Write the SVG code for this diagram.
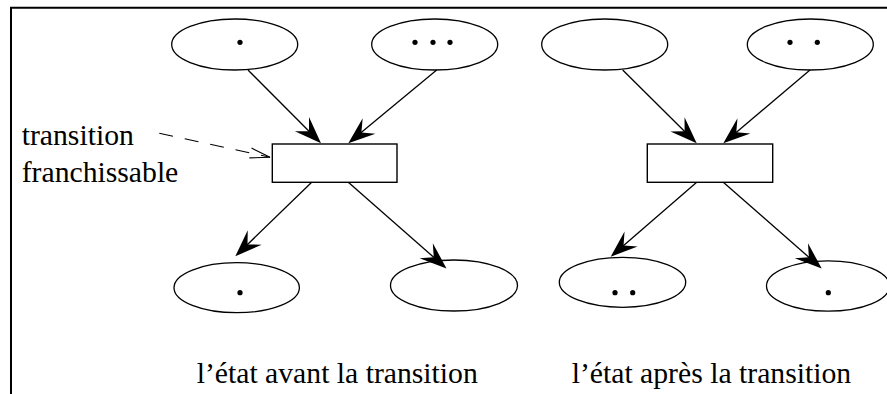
<svg xmlns="http://www.w3.org/2000/svg" xmlns:xlink="http://www.w3.org/1999/xlink" width="887" height="394" viewBox="0 0 887 394">
<style>
.place{fill:#fff;stroke:#000;stroke-width:1.3}
.trans{fill:#fff;stroke:#000;stroke-width:1.4}
.tok{fill:#000}
.arc{fill:none;stroke:#000;stroke-width:1.3}
.dash{fill:none;stroke:#000;stroke-width:1.1;stroke-dasharray:14 12}
.lbl{font-family:"Liberation Serif","Times New Roman",serif;font-size:29.7px;fill:#000}
</style>
<defs>
<path id="head" d="M0,0 L-27,-10 L-17,0 L-27,10 Z" fill="#000"/>
<path id="openhead" d="M-20,-5 L0,0 L-20,5" fill="none" stroke="#000" stroke-width="1.1"/>
</defs>
<rect width="887" height="394" fill="#fff"/>
<path d="M11,394 V7.7 H887" fill="none" stroke="#000" stroke-width="2"/>

<g id="p1"><ellipse class="place" cx="234.7" cy="44.5" rx="63" ry="25.5"/><circle class="tok" cx="240" cy="42.3" r="2.6"/></g>
<g id="p2"><ellipse class="place" cx="434.7" cy="44.5" rx="63" ry="25.5"/><circle class="tok" cx="415" cy="42.3" r="2.6"/><circle class="tok" cx="433" cy="42.3" r="2.6"/><circle class="tok" cx="450" cy="42.3" r="2.6"/></g>
<g id="t1"><rect class="trans" x="272.3" y="144" width="124.7" height="38.3"/></g>
<g id="p3"><ellipse class="place" cx="236.7" cy="287.7" rx="62.7" ry="25"/><circle class="tok" cx="240" cy="292.7" r="2.6"/></g>
<g id="p4"><ellipse class="place" cx="454" cy="285.5" rx="63.5" ry="25.5"/></g>

<g id="q1"><ellipse class="place" cx="604.7" cy="44.5" rx="63" ry="25.5"/></g>
<g id="q2"><ellipse class="place" cx="810.3" cy="44.5" rx="63" ry="25.5"/><circle class="tok" cx="790" cy="42.3" r="2.6"/><circle class="tok" cx="817.3" cy="42.3" r="2.6"/></g>
<g id="t2"><rect class="trans" x="647.3" y="144" width="125.4" height="38.3"/></g>
<g id="q3"><ellipse class="place" cx="622.5" cy="282.3" rx="63.2" ry="25"/><circle class="tok" cx="615" cy="292.7" r="2.6"/><circle class="tok" cx="632.7" cy="292.7" r="2.6"/></g>
<g id="q4"><ellipse class="place" cx="828" cy="286" rx="61.5" ry="25.2"/><circle class="tok" cx="828.3" cy="292.7" r="2.6"/></g>

<g id="connectors">
<line class="arc" x1="248" y1="70" x2="318" y2="140.3"/>
<use href="#head" xlink:href="#head" transform="translate(321 143.3) rotate(45.1)"/>
<line class="arc" x1="436.7" y1="70" x2="351.5" y2="140.6"/>
<use href="#head" xlink:href="#head" transform="translate(348.3 143.3) rotate(140.3)"/>
<line class="arc" x1="311.7" y1="182.3" x2="238.5" y2="253.2"/>
<use href="#head" xlink:href="#head" transform="translate(235.3 256.3) rotate(135.9)"/>
<line class="arc" x1="348.3" y1="182.3" x2="443" y2="265.4"/>
<use href="#head" xlink:href="#head" transform="translate(446.5 268.5) rotate(41.3)"/>
<line class="arc" x1="622.7" y1="70" x2="693.5" y2="140.2"/>
<use href="#head" xlink:href="#head" transform="translate(696.7 143.3) rotate(44.7)"/>
<line class="arc" x1="810" y1="70" x2="726.7" y2="140.4"/>
<use href="#head" xlink:href="#head" transform="translate(723.3 143.3) rotate(139.8)"/>
<line class="arc" x1="696.7" y1="182.3" x2="614.1" y2="253.8"/>
<use href="#head" xlink:href="#head" transform="translate(610.7 256.7) rotate(139.1)"/>
<line class="arc" x1="723.3" y1="182.3" x2="818.3" y2="265.5"/>
<use href="#head" xlink:href="#head" transform="translate(821.7 268.5) rotate(41.2)"/>
<line class="dash" x1="159.3" y1="133.3" x2="270" y2="157.2"/>
<use href="#openhead" xlink:href="#openhead" transform="translate(270 157.2) rotate(12.2)"/>
</g>

<g id="labels">
<text class="lbl" x="21.7" y="145">transition</text>
<text class="lbl" x="21.7" y="182">franchissable</text>
<text class="lbl" x="196.7" y="383">l’état avant la transition</text>
<text class="lbl" x="571.7" y="383">l’état après la transition</text>
</g>
</svg>
